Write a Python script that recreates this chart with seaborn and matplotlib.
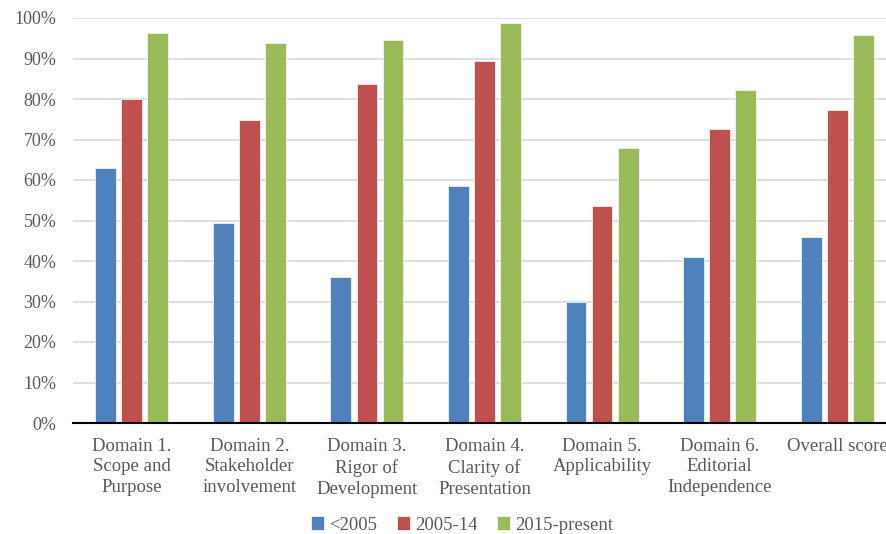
import matplotlib
matplotlib.use("Agg")
import matplotlib.pyplot as plt
import seaborn as sns
import pandas as pd

categories = ["Domain 1.\nScope and\nPurpose", "Domain 2.\nStakeholder\ninvolvement",
              "Domain 3.\nRigor of\nDevelopment", "Domain 4.\nClarity of\nPresentation",
              "Domain 5.\nApplicability", "Domain 6.\nEditorial\nIndependence", "Overall score"]
series = ["<2005", "2005-14", "2015-present"]
before_2005 = [63.0, 49.3, 36.0, 58.6, 30.0, 40.9, 45.9]
y2005_14 = [79.9, 74.8, 83.6, 89.3, 53.7, 72.6, 77.2]
y2015_present = [96.2, 93.9, 94.6, 98.8, 67.9, 82.2, 95.9]
colors = ["#4F81BD", "#C0504D", "#9BBB59"]
yticks = [0, 10, 20, 30, 40, 50, 60, 70, 80, 90, 100]

rows = []
for s, vals in zip(series, [before_2005, y2005_14, y2015_present]):
    for c, v in zip(categories, vals):
        rows.append({"cat": c, "series": s, "value": v})
df = pd.DataFrame(rows)

sns.set_theme(style="white")
plt.rcParams["font.family"] = ["Liberation Serif", "DejaVu Serif"]
text_color = "#595959"

fig = plt.figure(figsize=(8.86, 5.34), dpi=100)
ax = fig.add_axes([73/886, 111/534, 823/886, 405/534])
sns.barplot(data=df, x="cat", y="value", hue="series", order=categories,
            hue_order=series, palette=colors, saturation=1, width=0.664, gap=0.2,
            edgecolor="#F2F2F2", linewidth=0.6, ax=ax, legend=True)

ax.set_ylim(0, 100)
ax.set_xlim(-0.5, len(categories) - 0.5)
ax.set_yticks(yticks)
ax.set_yticklabels([f"{t}%" for t in yticks])
ax.yaxis.grid(True, color="#D9D9D9", linewidth=1.2)
ax.set_axisbelow(True)
for sp in ["top", "right", "left"]:
    ax.spines[sp].set_visible(False)
ax.spines["bottom"].set_color("black")
ax.spines["bottom"].set_linewidth(1.5)
ax.tick_params(axis="y", length=0, pad=12, labelsize=13, labelcolor=text_color)
ax.tick_params(axis="x", length=0, pad=10.5, labelsize=13.5, labelcolor=text_color)
for lbl in ax.get_xticklabels():
    lbl.set_linespacing(1.3)
ax.set_xlabel("")
ax.set_ylabel("")

handles, labels = ax.get_legend_handles_labels()
ax.get_legend().remove()
fig.legend(handles, labels, loc="center", bbox_to_anchor=(462/886, 1 - 525/534),
           ncol=3, frameon=False, fontsize=13.5, handlelength=0.7, handleheight=0.7,
           handletextpad=0.25, columnspacing=1.05, labelcolor=text_color)

fig.savefig("out.png", dpi=100)
